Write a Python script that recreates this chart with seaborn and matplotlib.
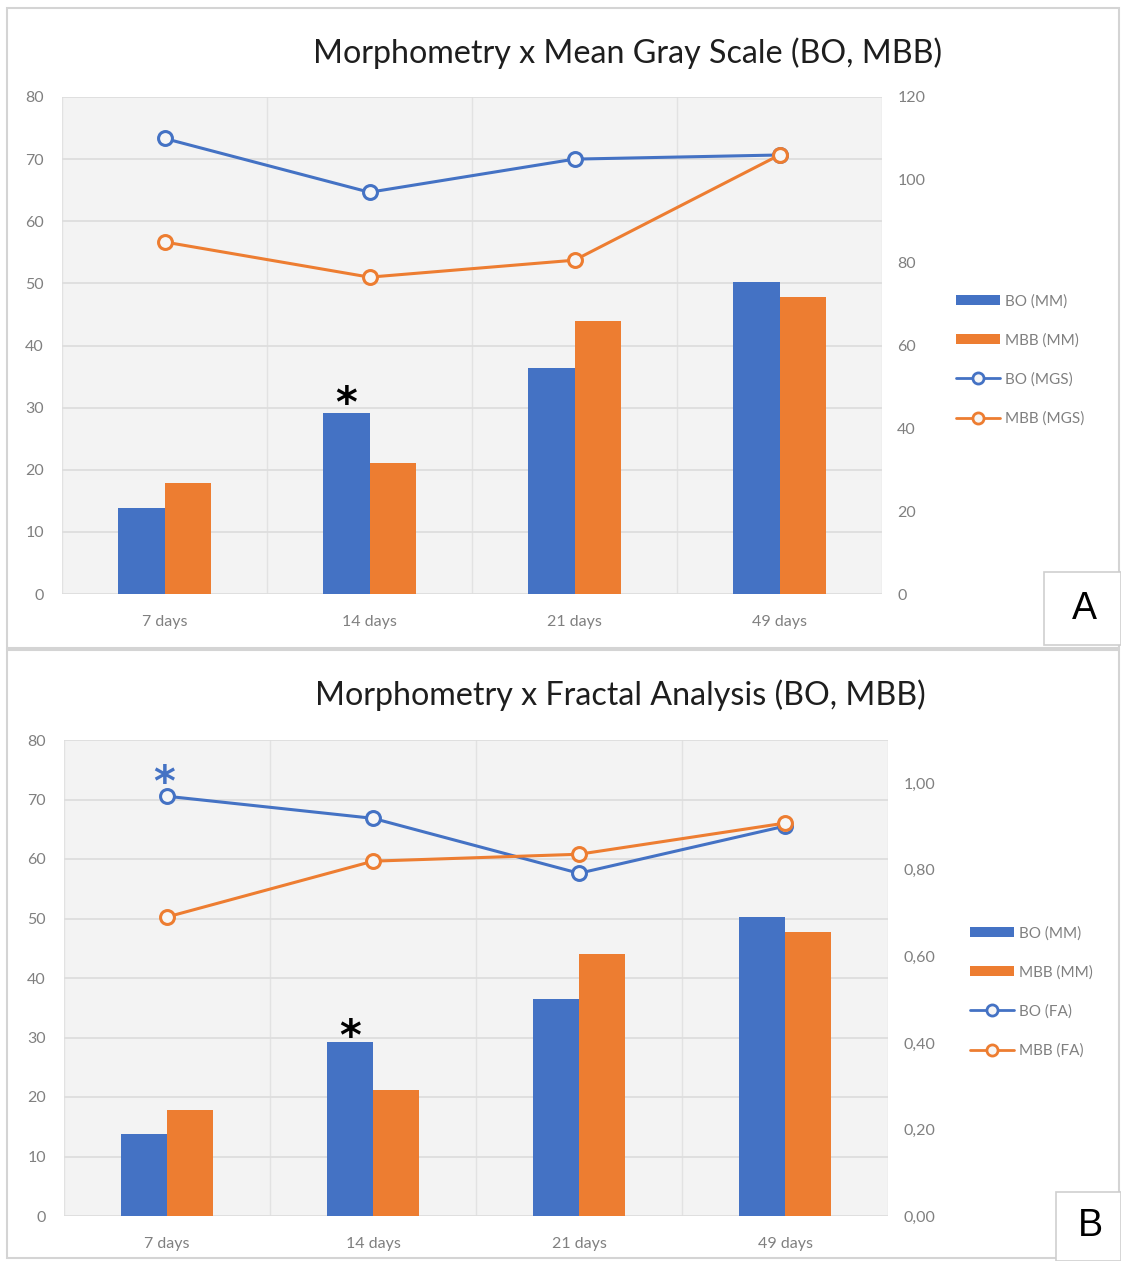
import numpy as np
import pandas as pd
import matplotlib
matplotlib.use("Agg")
import matplotlib.pyplot as plt
from matplotlib.patches import Rectangle, Patch
from matplotlib.lines import Line2D
from matplotlib.ticker import FuncFormatter
import seaborn as sns

# ---- data ----
days = ["7 days", "14 days", "21 days", "49 days"]
bo_mm = [13.8, 29.2, 36.4, 50.2]
mbb_mm = [17.8, 21.1, 44.0, 47.8]
bo_mgs = [110.0, 97.0, 105.0, 106.0]
mbb_mgs = [85.0, 76.5, 80.6, 106.0]
bo_fa = [0.97, 0.919, 0.792, 0.901]
mbb_fa = [0.691, 0.820, 0.836, 0.908]

BLUE = "#4472C4"
ORANGE = "#ED7D31"
TICK = "#808080"
FONT = ["Lato", "DejaVu Sans"]

sns.set_theme(style="white")
plt.rcParams["font.family"] = FONT

W, H = 1121, 1261
fig = plt.figure(figsize=(W / 100, H / 100), dpi=100)
fig.patch.set_facecolor("white")


def fx(px):
    return px / W


def fy(py):
    return 1 - py / H


def panel(box, title, title_xy, right_vals, right_lim, right_ticks, right_fmt,
          line_labels, legend_xy, tag, tag_box):
    l, t, r, b = box
    ax = fig.add_axes([fx(l), fy(b), fx(r) - fx(l), fy(t) - fy(b)])
    ax.set_facecolor("#f3f3f3")

    bars = pd.DataFrame({
        "day": days * 2,
        "value": bo_mm + mbb_mm,
        "series": ["BO (MM)"] * 4 + ["MBB (MM)"] * 4,
    })
    sns.barplot(data=bars, x="day", y="value", hue="series", order=days,
                palette=[BLUE, ORANGE], width=0.45, gap=0, saturation=1,
                legend=False, ax=ax, zorder=3, linewidth=0)
    ax.set_xlim(-0.5, len(days) - 0.5)
    ax.set_ylim(0, 80)
    ax.set_yticks(np.arange(0, 81, 10))
    ax.set_xlabel("")
    ax.set_ylabel("")
    ax.set_axisbelow(True)
    ax.yaxis.grid(True, color="#dcdcdc", lw=1.2)
    ax.set_xticks(np.arange(len(days)))
    ax.set_xticks(np.arange(len(days) + 1) - 0.5, minor=True)
    ax.xaxis.grid(True, which="minor", color="#e2e2e2", lw=1.0)
    ax.xaxis.grid(False, which="major")
    ax.tick_params(axis="both", which="both", length=0, colors=TICK,
                   labelsize=11.5)
    ax.tick_params(axis="x", pad=15)
    ax.tick_params(axis="y", pad=13)
    for s in ax.spines.values():
        s.set_visible(False)

    ax2 = ax.twinx()
    for vals, c in zip(right_vals, [BLUE, ORANGE]):
        sns.lineplot(x=days, y=vals, ax=ax2, color=c, lw=2.2, marker="o",
                     markersize=10, markerfacecolor="#f6f6f6",
                     markeredgecolor=c, markeredgewidth=2.2, sort=False,
                     zorder=5)
    ax2.set_ylim(*right_lim)
    ax2.set_yticks(right_ticks)
    ax2.yaxis.set_major_formatter(FuncFormatter(right_fmt))
    ax2.tick_params(axis="y", length=0, colors=TICK, labelsize=11.5, pad=11)
    ax2.set_ylabel("")
    for s in ax2.spines.values():
        s.set_visible(False)
    ax2.grid(False)

    fig.text(fx(title_xy[0]), fy(title_xy[1]), title, ha="center",
             va="center", fontsize=23.2, color="#1e1e1e", family=FONT)

    handles = [
        Patch(facecolor=BLUE, edgecolor="none"),
        Patch(facecolor=ORANGE, edgecolor="none"),
        Line2D([], [], color=BLUE, lw=2, marker="o", markersize=8,
               markerfacecolor="#f6f6f6", markeredgecolor=BLUE,
               markeredgewidth=2),
        Line2D([], [], color=ORANGE, lw=2, marker="o", markersize=8,
               markerfacecolor="#f6f6f6", markeredgecolor=ORANGE,
               markeredgewidth=2),
    ]
    labels = ["BO (MM)", "MBB (MM)"] + line_labels
    leg = fig.legend(handles, labels, loc="upper left",
                     bbox_to_anchor=(fx(legend_xy[0]), fy(legend_xy[1])),
                     frameon=False, fontsize=11, handlelength=2.9,
                     handleheight=0.6, handletextpad=0.3, labelspacing=1.62,
                     borderaxespad=0, borderpad=0)
    for txt in leg.get_texts():
        txt.set_color(TICK)

    bx0, by0, bx1, by1 = tag_box
    fig.patches.append(Rectangle((fx(bx0), fy(by1)), fx(bx1) - fx(bx0),
                                 fy(by0) - fy(by1), transform=fig.transFigure,
                                 facecolor="white", edgecolor="#cfcfcf",
                                 lw=1.2, zorder=10))
    fig.text(fx((bx0 + bx1) / 2 + 2), fy((by0 + by1) / 2), tag, ha="center",
             va="center", fontsize=27, color="black",
             family=["Liberation Sans", "DejaVu Sans"], zorder=11)
    return ax, ax2


# panel frames
for (x0, y0, x1, y1) in [(7, 8, 1119, 648), (7, 650, 1119, 1258)]:
    fig.patches.append(Rectangle((fx(x0), fy(y1)), fx(x1) - fx(x0),
                                 fy(y0) - fy(y1), transform=fig.transFigure,
                                 facecolor="none", edgecolor="#d4d4d4",
                                 lw=1.5, zorder=0))

axA, axA2 = panel(
    (62, 97, 882, 594), "Morphometry x Mean Gray Scale (BO, MBB)", (628, 53),
    [bo_mgs, mbb_mgs], (0, 120), np.arange(0, 121, 20),
    lambda v, p: f"{v:.0f}", ["BO (MGS)", "MBB (MGS)"], (956, 294), "A",
    (1044, 572, 1121, 645))

axB, axB2 = panel(
    (64, 740, 888, 1216), "Morphometry x Fractal Analysis (BO, MBB)", (620, 695),
    [bo_fa, mbb_fa], (0, 1.1), np.arange(0, 1.01, 0.2),
    lambda v, p: f"{v:.2f}".replace(".", ","), ["BO (FA)", "MBB (FA)"],
    (970, 926), "B", (1056, 1192, 1121, 1261))


# significance marks, offset in points from the marked value
def star(ax, x, y, dy_px, color, dx_px=0):
    ax.annotate("*", xy=(x, y), xytext=(dx_px * 0.72, dy_px * 0.72),
                textcoords="offset points", ha="center", va="bottom",
                fontsize=30, fontweight="bold", color=color,
                family=["DejaVu Sans"], zorder=6)


bar_shift = 0.45 / 4
star(axA, 1 - bar_shift, bo_mm[1], -13, "black")
star(axB, 1 - bar_shift, bo_mm[1], -17, "black")
star(axB2, 0, bo_fa[0], -9, BLUE, dx_px=-3)

fig.savefig("out.png", dpi=100, facecolor="white")
